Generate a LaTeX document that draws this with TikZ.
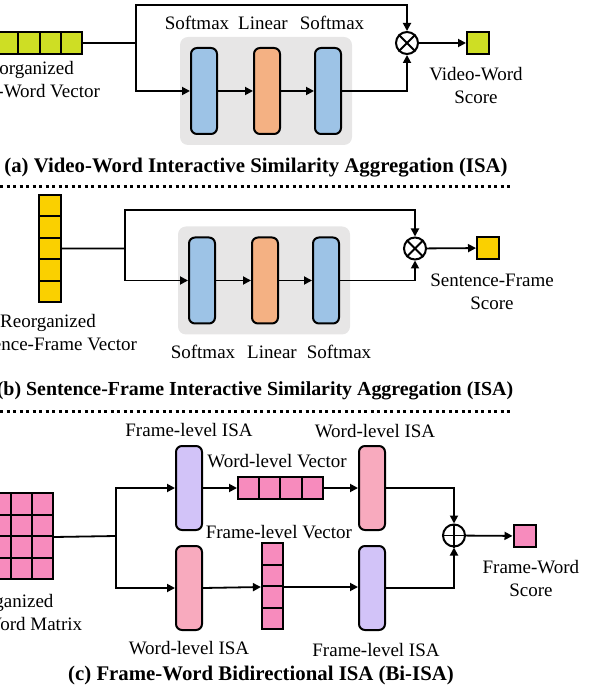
\documentclass[tikz,border=0pt]{standalone}
\usepackage{fontspec}
\setmainfont{Liberation Serif}
\usepackage{tikz}
\usetikzlibrary{arrows.meta,positioning,fit,backgrounds}

\definecolor{limeA}{RGB}{206,222,36}
\definecolor{goldB}{RGB}{250,208,0}
\definecolor{boxBlue}{RGB}{157,195,230}
\definecolor{boxOrange}{RGB}{244,177,131}
\definecolor{bgGray}{RGB}{231,230,230}
\definecolor{cellPink}{RGB}{247,139,189}
\definecolor{boxPink}{RGB}{248,170,190}
\definecolor{boxPurple}{RGB}{210,195,248}

\begin{document}
\begin{tikzpicture}[
    x=0.5pt, y=-0.5pt,
    font=\fontsize{9.5}{11.5}\selectfont,
    node distance=4pt,
    isabox/.style={draw, line width=1pt, rounded corners=3pt, minimum width=13pt, minimum height=43pt, inner sep=0pt},
    cell/.style={draw, line width=1pt, minimum size=10.6pt, inner sep=0pt},
    opnode/.style={draw, circle, line width=1pt, minimum size=11pt, inner sep=0pt},
    myedge/.style={-{Triangle[length=4pt,width=4pt]}, line width=0.9pt},
    plainedge/.style={line width=0.9pt},
    graybg/.style={fill=bgGray, rounded corners=4pt, inner sep=5pt},
    title/.style={font=\fontsize{10.4}{12}\selectfont\bfseries},
    sepline/.style={line width=1.5pt, dash pattern=on 1.5pt off 1.75pt},
    lbl/.style={align=center}
]
\path[use as bounding box, clip] (0,0) rectangle (601,688);

% (a)
\foreach \i in {1,...,5}
  \node[cell, fill=limeA] (va\i) at ({82-10.6-21.2*(5-\i)}, 43) {};
\coordinate (ba) at (136,43);
\coordinate (ta) at (136,5);
\node[isabox, fill=boxBlue] (sm1) at (204,91) {};
\node[isabox, fill=boxOrange] (lin1) at (267,91) {};
\node[isabox, fill=boxBlue] (sm2) at (328,91) {};
\begin{scope}[on background layer]
  \node[graybg, fit=(sm1)(sm2)] (bga) {};
\end{scope}
\node[opnode] (mul1) at (407,43) {};
\draw[plainedge] (mul1.north west) -- (mul1.south east) (mul1.north east) -- (mul1.south west);
\node[cell, fill=limeA, minimum size=11pt] (sa) at (478,43) {};

\node[above=4.9pt of sm1, xshift=-3.5pt] {Softmax};
\node[above=4.9pt of lin1, xshift=-2pt] {Linear};
\node[above=4.9pt of sm2, xshift=2pt] {Softmax};
\node[lbl, below=0pt of va3, xshift=-1.5pt] {Reorganized\\Video-Word Vector};
\node[lbl, below=2.7pt of sa, xshift=-1pt] {Video-Word\\Score};

\draw[plainedge] (va5) -- (ba);
\draw[myedge] (ba) |- (sm1);
\draw[myedge] (ba) -- (ta) -| (mul1);
\draw[myedge] (sm1) -- (lin1);
\draw[myedge] (lin1) -- (sm2);
\draw[myedge] (sm2) -| (mul1);
\draw[myedge] (mul1) -- (sa);

\node[title] (tia) at (256,168) {(a) Video-Word Interactive Similarity Aggregation (ISA)};
\draw[sepline] (0,187) -- (510,187);

% (b)
\foreach \i in {1,...,5}
  \node[cell, fill=goldB, minimum height=10.7pt] (vb\i) at (50, {195+10.7+21.4*(\i-1)}) {};
\coordinate (bb) at (125,248.5);
\coordinate (tb) at (125,210);
\node[isabox, fill=boxBlue] (sm3) at (202,280.5) {};
\node[isabox, fill=boxOrange] (lin2) at (265,280.5) {};
\node[isabox, fill=boxBlue] (sm4) at (326,280.5) {};
\begin{scope}[on background layer]
  \node[graybg, fit=(sm3)(sm4)] (bgb) {};
\end{scope}
\node[opnode] (mul2) at (415,248.5) {};
\draw[plainedge] (mul2.north west) -- (mul2.south east) (mul2.north east) -- (mul2.south west);
\node[cell, fill=goldB, minimum size=11pt] (sb) at (488,248) {};

\node[below=7pt of sm3, xshift=0.5pt] {Softmax};
\node[below=7pt of lin2, xshift=3.5pt] {Linear};
\node[below=7pt of sm4, xshift=6.5pt] {Softmax};
\node[lbl, below=2.2pt of vb5, xshift=-1pt] {Reorganized\\Sentence-Frame Vector};
\node[lbl, below=3.4pt of sb, xshift=2pt] {Sentence-Frame\\Score};

\draw[plainedge] (vb3) -- (bb);
\draw[myedge] (bb) |- (sm3);
\draw[myedge] (bb) -- (tb) -| (mul2);
\draw[myedge] (sm3) -- (lin2);
\draw[myedge] (lin2) -- (sm4);
\draw[myedge] (sm4) -| (mul2);
\draw[myedge] (mul2) -- (sb);

\node[title, font=\fontsize{9.95}{12}\selectfont\bfseries] (tib) at (255,391) {(b) Sentence-Frame Interactive Similarity Aggregation (ISA)};
\draw[sepline] (0,411) -- (510,411);

% (c)
\foreach \r in {1,...,4}
  \foreach \c in {1,...,4}
    \node[cell, fill=cellPink, minimum height=10.75pt] (m\r\c) at ({53-10.6-21.2*(4-\c)}, {493+10.75+21.5*(\r-1)}) {};
\coordinate (bc) at (116,536);
\node[isabox, fill=boxPurple, minimum height=42pt] (fi1) at (189,488) {};
\node[isabox, fill=boxPink, minimum height=42pt] (wi1) at (189,588) {};
\foreach \i in {1,...,4}
  \node[cell, fill=cellPink] (hv\i) at ({238+10.6+21.2*(\i-1)}, 488) {};
\foreach \i in {1,...,4}
  \node[cell, fill=cellPink, minimum height=10.75pt] (vv\i) at (272.5, {543+10.75+21.5*(\i-1)}) {};
\node[isabox, fill=boxPink, minimum height=42pt] (wi2) at (372,488) {};
\node[isabox, fill=boxPurple, minimum height=42pt] (fi2) at (372,588) {};
\node[opnode] (add) at (454,535.5) {};
\draw[plainedge] (add.north) -- (add.south) (add.west) -- (add.east);
\node[cell, fill=cellPink, minimum size=11pt] (sc) at (524.5,536) {};

\node[above=0.6pt of fi1] {Frame-level ISA};
\node[below=1.7pt of wi1] {Word-level ISA};
\node[above=0pt of wi2, xshift=1.5pt] {Word-level ISA};
\node[below=2.5pt of fi2, xshift=2pt] {Frame-level ISA};
\node[above=0.9pt of hv2.north east, xshift=-2.2pt] {Word-level Vector};
\node[above=-1.8pt of vv1, xshift=3.2pt] {Frame-level Vector};
\node[lbl, below=3.7pt of m42.south east, xshift=-3pt] {Reorganized\\Frame-Word Matrix};
\node[lbl, below=2.7pt of sc, xshift=3.2pt] {Frame-Word\\Score};

\draw[plainedge] (m24.south east) -- (bc);
\draw[myedge] (bc) |- (fi1);
\draw[myedge] (bc) |- (wi1);
\draw[myedge] (fi1) -- (hv1);
\draw[myedge] (hv4) -- (wi2);
\draw[myedge] (wi1.east) -- (vv2.south west);
\draw[myedge] (vv2.south east) -- (vv2.south east -| fi2.west);
\draw[myedge] (wi2) -| (add);
\draw[myedge] (fi2) -| (add);
\draw[myedge] (add) -- (sc);

\node[title] (tic) at (261,675) {(c) Frame-Word Bidirectional ISA (Bi-ISA)};
\end{tikzpicture}
\end{document}
